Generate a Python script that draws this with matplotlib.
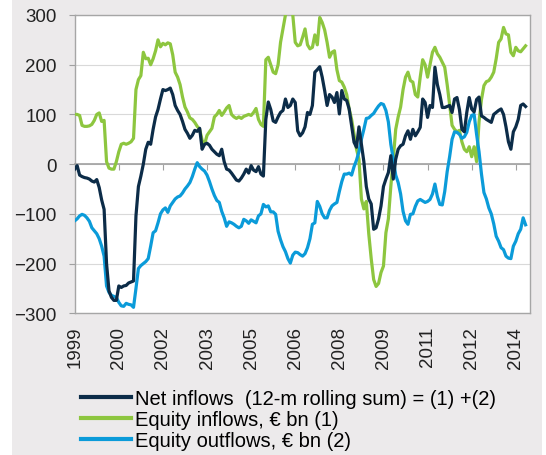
import matplotlib
matplotlib.use("Agg")
import matplotlib.pyplot as plt
from matplotlib.patches import Rectangle

plt.rcParams['font.family'] = ['Liberation Sans', 'DejaVu Sans']

year_labels = ["1999", "2000", "2002", "2003", "2005", "2006", "2008",
               "2009", "2011", "2012", "2014"]

# monthly values, Jan 1999 onwards (EUR bn, 12-m rolling sums)
net_inflows = [
    -10, -3, -22, -25, -27, -28, -30, -34, -36, -31, -47, -72, -91, -200, -255, -268,
    -274, -274, -245, -248, -245, -244, -239, -237, -235, -104, -45, -24, 0, 30,
    44, 40, 70, 95, 110, 131, 150, 148, 150, 153, 140, 118, 108, 100, 86, 70,
    62, 52, 58, 68, 66, 72, 30, 40, 42, 38, 30, 25, 20, 17, 30, 5,
    -10, -12, -18, -25, -32, -34, -28, -20, -10, -18, -3, -12, -15, -5, -20, -24,
    90, 125, 110, 87, 84, 95, 104, 108, 131, 114, 118, 131, 124, 67, 57, 63,
    75, 104, 100, 118, 185, 190, 196, 175, 148, 118, 140, 135, 124, 144, 101, 148,
    131, 128, 111, 77, 44, 34, 75, 40, 5, -45, -70, -80, -131, -128, -110, -84,
    -45, -30, -17, 17, -30, 10, 30, 37, 40, 57, 67, 50, 70, 57, 65, 74,
    131, 124, 94, 118, 114, 195, 160, 140, 114, 114, 116, 118, 104, 131, 134, 110,
    70, 65, 104, 134, 111, 105, 130, 135, 97, 94, 90, 87, 84, 100, 104, 108,
    111, 100, 75, 45, 30, 65, 75, 90, 118, 121, 116,
]

equity_inflows = [
    100, 100, 98, 78, 76, 76, 77, 80, 88, 100, 103, 86, 88, 5, -8, -10,
    -10, 5, 25, 40, 42, 40, 42, 45, 52, 150, 170, 178, 225, 212, 213, 200,
    212, 228, 250, 236, 243, 240, 244, 242, 220, 185, 175, 160, 135, 115, 105, 93,
    90, 84, 76, 70, 48, 40, 58, 65, 72, 95, 100, 108, 98, 105, 113, 118,
    100, 95, 92, 95, 92, 96, 98, 100, 98, 104, 112, 90, 80, 76, 210, 215,
    200, 185, 182, 200, 245, 272, 300, 310, 310, 300, 245, 238, 240, 255, 272, 240,
    232, 235, 260, 240, 295, 285, 270, 245, 215, 225, 228, 190, 168, 165, 155, 140,
    111, 90, 60, 30, 10, -70, -90, -75, -140, -190, -232, -246, -240, -218, -205, -138,
    -110, -45, 10, 70, 95, 115, 150, 175, 185, 168, 165, 140, 135, 175, 210, 200,
    175, 200, 225, 235, 222, 215, 205, 195, 160, 120, 78, 70, 65, 68, 45, 30,
    25, 35, 15, 35, 5, 85, 130, 158, 166, 168, 175, 185, 212, 245, 252, 275,
    262, 260, 225, 218, 235, 228, 226, 232, 238,
]

equity_outflows = [
    -114, -110, -104, -101, -103, -108, -115, -128, -134, -140, -150, -165, -185, -245, -258, -264,
    -266, -268, -278, -285, -286, -280, -282, -283, -288, -250, -210, -204, -200, -196, -190, -165,
    -138, -134, -118, -100, -92, -88, -97, -84, -77, -70, -66, -64, -58, -50, -44, -37,
    -25, -10, 3, -5, -10, -14, -22, -35, -50, -63, -73, -77, -95, -108, -125, -116,
    -118, -121, -125, -128, -125, -111, -114, -119, -112, -115, -118, -104, -100, -81, -86, -84,
    -96, -96, -101, -135, -152, -166, -176, -190, -199, -183, -177, -178, -182, -185, -180, -168,
    -150, -121, -118, -75, -85, -100, -108, -108, -93, -84, -80, -77, -55, -35, -20, -20,
    -18, -22, -5, 8, 25, 50, 70, 92, 93, 98, 102, 110, 117, 122, 120, 108,
    85, 40, 10, -22, -37, -60, -95, -114, -121, -101, -100, -85, -74, -71, -74, -77,
    -75, -71, -60, -40, -65, -81, -82, -55, -15, 15, 50, 65, 64, 60, 52, 55,
    64, 85, 98, 100, 60, 25, -20, -57, -70, -88, -100, -120, -145, -155, -168, -172,
    -185, -189, -190, -165, -155, -140, -131, -108, -122,
]

series_labels = [
    "Net inflows  (12-m rolling sum) = (1) +(2)",
    "Equity inflows, \u20ac bn (1)",
    "Equity outflows, \u20ac bn (2)",
]
colors = ["#0C2C48", "#8DC63F", "#0B9BD9"]

W, H = 546, 456
fig = plt.figure(figsize=(W / 100, H / 100), dpi=100, facecolor="white")
fig.patches.append(Rectangle((12 / W, 0), (542 - 12) / W, 1, transform=fig.transFigure,
                             facecolor="#ECEAEB", edgecolor="none", zorder=-10))

L, R, T, B = 74.7, 530, 16, 314.3
ax = fig.add_axes([L / W, 1 - B / H, (R - L) / W, (B - T) / H])
ax.set_zorder(1)
ax.set_facecolor("white")

months_net = list(range(len(net_inflows)))
months_in = list(range(len(equity_inflows)))
months_out = list(range(len(equity_outflows)))

lines = []
lines += ax.plot(months_net, net_inflows, color=colors[0], lw=2.3, zorder=5, solid_joinstyle="round")
lines += ax.plot(months_in, equity_inflows, color=colors[1], lw=2.3, zorder=3, solid_joinstyle="round")
lines += ax.plot(months_out, equity_outflows, color=colors[2], lw=2.3, zorder=4, solid_joinstyle="round")

ax.set_xlim(0, 185.8)
ax.set_ylim(-300, 300)
ax.set_yticks(range(-300, 301, 100))
ax.yaxis.grid(True, color="#D9D9D9", lw=0.8)
ax.set_axisbelow(True)
ax.tick_params(axis="y", labelsize=13.5, colors="#A0A0A0", labelcolor="#222222",
               length=4, width=0.8, pad=9)

tick_pos = [18 * i for i in range(len(year_labels))]
ax.spines["bottom"].set_position(("data", 0))
ax.spines["bottom"].set_color("#A0A0A0")
ax.spines["bottom"].set_linewidth(1.2)
ax.set_xticks(tick_pos)
ax.set_xticklabels([])
ax.tick_params(axis="x", direction="out", length=4, width=0.8, colors="#A0A0A0")

for s in ["top", "right", "left"]:
    ax.spines[s].set_color("#A6A6A6")
    ax.spines[s].set_linewidth(1.0)

sec = ax.secondary_xaxis("bottom")
sec.set_xticks(tick_pos)
sec.set_xticklabels(year_labels, rotation=90, fontsize=13.5, color="#222222")
sec.tick_params(length=0, pad=9)
sec.spines["bottom"].set_color("#A6A6A6")
sec.spines["bottom"].set_linewidth(1.0)

leg = fig.legend(lines, series_labels, loc="upper left", bbox_to_anchor=(81 / W, 1 - 390 / H),
                 frameon=False, fontsize=14.5, handlelength=2.5, handletextpad=0.2,
                 labelspacing=0.1, borderaxespad=0, borderpad=0)
for l in leg.get_lines():
    l.set_linewidth(3)

fig.savefig("out.png", dpi=100, facecolor=fig.get_facecolor())
